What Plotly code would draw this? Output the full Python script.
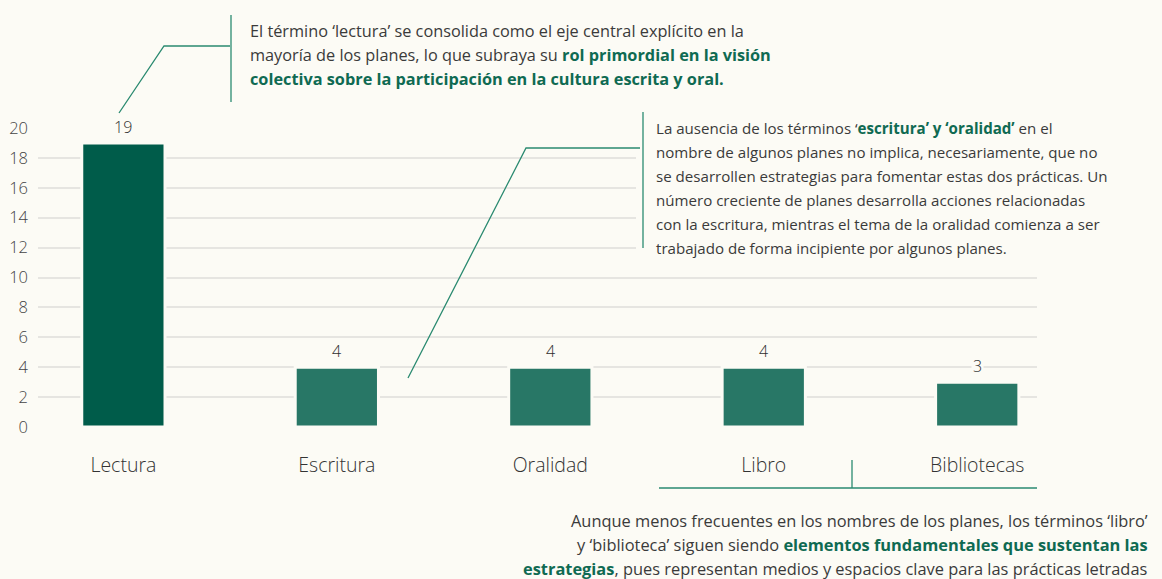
import plotly.graph_objects as go

categories = ["Lectura", "Escritura", "Oralidad", "Libro", "Bibliotecas"]
values = [19, 4, 4, 4, 3]
bar_colors = ["#005c4a", "#287766", "#287766", "#287766", "#287766"]
y_ticks = list(range(0, 21, 2))

BG = "#fcfbf5"
TXT = "#3a3a3a"
GREEN = "#0f6a52"
LINE = "#2a8a70"
FONT = "Open Sans"

OFF = 8  # page margin of the html body
W, H = 1162 - OFF, 579 - OFF
L, R, T, B = 38 - OFF, 125, 128 - OFF, 152
PW, PH = W - L - R, H - T - B


def px(x):
    return (x - OFF - L) / PW


def py(y):
    return (H - B - (y - OFF)) / PH


fig = go.Figure()
fig.add_trace(go.Bar(
    x=categories, y=values,
    marker=dict(color=bar_colors, line=dict(color=BG, width=3)),
    width=0.39, hoverinfo="skip",
))

annotations = []
for c, v in zip(categories, values):
    annotations.append(dict(
        x=c, y=v, xref="x", yref="y", text=str(v), showarrow=False,
        yanchor="bottom", yshift=3, bgcolor=BG, borderpad=1,
        font=dict(family=FONT, size=16, color="#2f2f2f", weight=300),
    ))


def g(s):
    return f"<b><span style='color:{GREEN}'>{s}</span></b>"


note1 = [
    "El término ‘lectura’ se consolida como el eje central explícito en la",
    "mayoría de los planes, lo que subraya su " + g("rol primordial en la visión"),
    g("colectiva sobre la participación en la cultura escrita y oral."),
]
note2 = [
    "La ausencia de los términos ‘" + g("escritura’ y ‘oralidad’") + " en el",
    "nombre de algunos planes no implica, necesariamente, que no",
    "se desarrollen estrategias para fomentar estas dos prácticas. Un",
    "número creciente de planes desarrolla acciones relacionadas",
    "con la escritura, mientras el tema de la oralidad comienza a ser",
    "trabajado de forma incipiente por algunos planes.",
]
note3 = [
    "Aunque menos frecuentes en los nombres de los planes, los términos ‘libro’",
    "y ‘biblioteca’ siguen siendo " + g("elementos fundamentales que sustentan las"),
    g("estrategias") + ", pues representan medios y espacios clave para las prácticas letradas",
]

for i, t in enumerate(note1):
    annotations.append(dict(x=px(248), y=py(31 + 24 * i), xref="paper", yref="paper",
                            text=t, showarrow=False, xanchor="left", yanchor="middle",
                            font=dict(family=FONT, size=16.3, color=TXT)))
for i, t in enumerate(note2):
    annotations.append(dict(x=px(654), y=py(128 + 24 * i), xref="paper", yref="paper",
                            text=t, showarrow=False, xanchor="left", yanchor="middle",
                            font=dict(family=FONT, size=15.1, color=TXT)))
for i, t in enumerate(note3):
    annotations.append(dict(x=px(1150), y=py(520 + 24 * i), xref="paper", yref="paper",
                            text=t, showarrow=False, xanchor="right", yanchor="middle",
                            font=dict(family=FONT, size=16.4, color=TXT)))


def seg(points):
    return "M " + " L ".join(f"{px(x)},{py(y)}" for x, y in points)


shapes = [
    dict(type="rect", xref="paper", yref="paper", x0=px(636), x1=px(1162), y0=py(262), y1=py(105),
         fillcolor=BG, line=dict(width=0), layer="above"),
    dict(type="path", xref="paper", yref="paper", path=seg([(119, 113), (164, 46), (230, 46)]),
         line=dict(color=LINE, width=1.3)),
    dict(type="line", xref="paper", yref="paper", x0=px(231), x1=px(231), y0=py(15), y1=py(102),
         line=dict(color=LINE, width=1.3)),
    dict(type="path", xref="paper", yref="paper", path=seg([(408, 378), (526, 148), (640, 148)]),
         line=dict(color=LINE, width=1.3), layer="above"),
    dict(type="line", xref="paper", yref="paper", x0=px(643), x1=px(643), y0=py(112), y1=py(248),
         line=dict(color=LINE, width=1.3), layer="above"),
    dict(type="line", xref="paper", yref="paper", x0=px(659), x1=px(1037), y0=py(488), y1=py(488),
         line=dict(color=LINE, width=1.3)),
    dict(type="line", xref="paper", yref="paper", x0=px(852), x1=px(852), y0=py(460), y1=py(488),
         line=dict(color=LINE, width=1.3)),
]

fig.update_layout(
    width=W, height=H,
    margin=dict(l=L, r=R, t=T, b=B, autoexpand=False),
    paper_bgcolor=BG, plot_bgcolor=BG,
    showlegend=False,
    annotations=annotations,
    shapes=shapes,
    xaxis=dict(range=[-0.4, 4.28], showgrid=False, zeroline=False, showline=False,
               ticks="", ticklabelstandoff=24, automargin=False,
               tickfont=dict(family=FONT, size=19.5, color="#333", weight=300)),
    yaxis=dict(range=[0, 20], tickvals=y_ticks, showgrid=True, gridcolor="#e6e5e1",
               gridwidth=2, zeroline=False, showline=False, ticks="", ticklabelstandoff=9,
               automargin=False,
               tickfont=dict(family=FONT, size=16.5, color="#444", weight=300)),
    bargap=0.6,
)

fig.write_html(
    "out.html",
    post_script=f"document.body.style.background='{BG}';"
                f"document.documentElement.style.background='{BG}';",
)
